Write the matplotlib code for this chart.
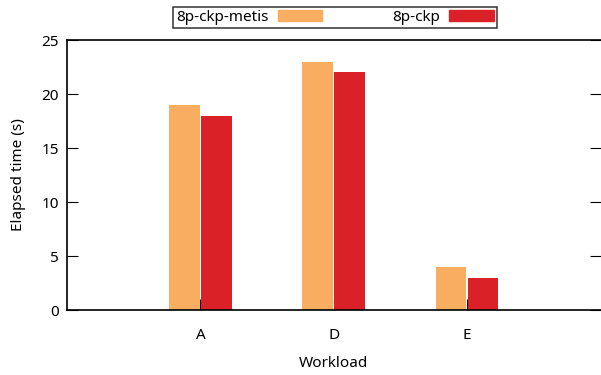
import matplotlib.pyplot as plt
from matplotlib.patches import Patch
import numpy as np

plt.rcParams['font.family'] = ['Noto Sans', 'DejaVu Sans']

workloads = ['A', 'D', 'E']
metis = [19, 23, 4]
ckp = [18, 22, 3]

fig = plt.figure(figsize=(6.01, 3.75), dpi=100)
ax = fig.add_axes([67 / 601, 65 / 375, 533.5 / 601, 270 / 375])

x = np.arange(len(workloads))
w = 0.23
ax.bar(x - w / 2 - 0.005, metis, w, color='#f9ad60', zorder=2)
ax.bar(x + w / 2 + 0.005, ckp, w, color='#db2128', zorder=2)

ax.set_xlim(-1, 3)
ax.set_ylim(0, 25)
ax.set_xticks(x)
ax.set_xticklabels(workloads)
ax.set_yticks(range(0, 26, 5))
ax.tick_params(axis='y', direction='in', length=8, right=True, labelsize=11, pad=6)
ax.tick_params(axis='x', direction='in', length=8, labelsize=11, pad=13)
for s in ax.spines.values():
    s.set_linewidth(1.2)
ax.spines['right'].set_visible(False)

ax.set_xlabel('Workload', fontsize=11, labelpad=9)
ax.set_ylabel('Elapsed time (s)', fontsize=11, labelpad=11)

handles = [Patch(color='#f9ad60'), Patch(color='#db2128')]
leg = fig.legend(handles, ['8p-ckp-metis', '8p-ckp'], ncol=2, markerfirst=False,
                 loc='center', bbox_to_anchor=(335 / 601, 1 - 17.5 / 375),
                 fontsize=11, frameon=True, fancybox=False, edgecolor='black',
                 handlelength=2.9, handleheight=0.72, columnspacing=4.6,
                 handletextpad=0.6, borderpad=0.2)
leg.get_frame().set_linewidth(1.1)

fig.savefig('out.png', dpi=100)
